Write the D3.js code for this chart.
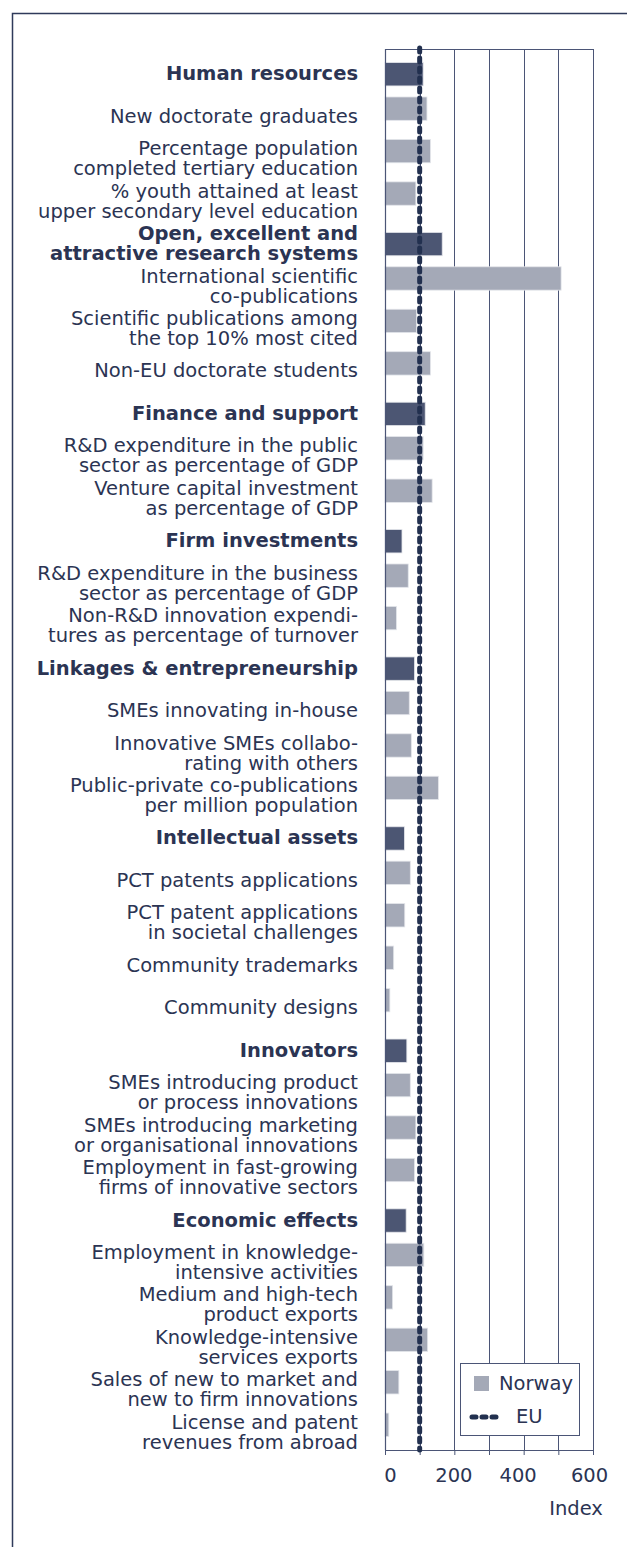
<!DOCTYPE html>
<html>
<head>
<meta charset="utf-8">
<script src="https://cdn.jsdelivr.net/npm/d3@7"></script>
<style>
  body { margin: 0; background: #fff; }
  svg text { font-family: "DejaVu Sans", Verdana, sans-serif; fill: #2b3453; }
</style>
</head>
<body>
<div id="chart"></div>
<script>
// indicator labels, top to bottom ("\n" = line break as in the original)
var labels = [
  "Human resources",
  "New doctorate graduates",
  "Percentage population\ncompleted tertiary education",
  "% youth attained at least\nupper secondary level education",
  "Open, excellent and\nattractive research systems",
  "International scientific\nco-publications",
  "Scientific publications among\nthe top 10% most cited",
  "Non-EU doctorate students",
  "Finance and support",
  "R&D expenditure in the public\nsector as percentage of GDP",
  "Venture capital investment\nas percentage of GDP",
  "Firm investments",
  "R&D expenditure in the business\nsector as percentage of GDP",
  "Non-R&D innovation expendi-\ntures as percentage of turnover",
  "Linkages & entrepreneurship",
  "SMEs innovating in-house",
  "Innovative SMEs collabo-\nrating with others",
  "Public-private co-publications\nper million population",
  "Intellectual assets",
  "PCT patents applications",
  "PCT patent applications\nin societal challenges",
  "Community trademarks",
  "Community designs",
  "Innovators",
  "SMEs introducing product\nor process innovations",
  "SMEs introducing marketing\nor organisational innovations",
  "Employment in fast-growing\nfirms of innovative sectors",
  "Economic effects",
  "Employment in knowledge-\nintensive activities",
  "Medium and high-tech\nproduct exports",
  "Knowledge-intensive\nservices exports",
  "Sales of new to market and\nnew to firm innovations",
  "License and patent\nrevenues from abroad"
];

// 1 = dimension (bold, dark bar), 0 = indicator
var isDimension = [1,0,0,0,1,0,0,0,1,0,0,1,0,0,1,0,0,0,1,0,0,0,0,1,0,0,0,1,0,0,0,0,0];

// Norway index values (EU = 100)
var norway = [110,121,131,89,165,508,91,131,116,110,136,49,67,33,85,70,76,154,56,73,57,25,14,63,73,89,85,61,112,22,123,40,11];

var euValue = 100;
var gridValues = [0,100,200,300,400,500,600];
var tickLabels = [0,200,400,600];

var W = 627, H = 1547;
var plot = {left: 385, right: 593, top: 49, bottom: 1450};

var dark = "#4c5673", light = "#a4a9b7", navy = "#22304f", grid = "#4b5576";

var svg = d3.select("#chart").append("svg")
    .attr("width", W)
    .attr("height", H);

// outer frame (left and top edges visible)
svg.append("path")
    .attr("d", "M12.5," + H + "V13.5H" + W)
    .attr("fill", "none")
    .attr("stroke", "#2f3a5a")
    .attr("stroke-width", 1.5);

var x = d3.scaleLinear()
    .domain([0, 600])
    .range([plot.left, plot.right]);

var y = d3.scaleBand()
    .domain(d3.range(labels.length))
    .range([plot.top, plot.bottom]);

var bw = y.bandwidth();
var barH = bw * 0.55;
var shift = bw * 0.095;

// gridlines
svg.append("g").selectAll("line")
    .data(gridValues.slice(1))
    .join("line")
    .attr("x1", d => Math.round(x(d)) + 0.5)
    .attr("x2", d => Math.round(x(d)) + 0.5)
    .attr("y1", plot.top)
    .attr("y2", plot.bottom)
    .attr("stroke", grid)
    .attr("stroke-width", 1);

// top border of plot
svg.append("line")
    .attr("x1", plot.left).attr("x2", plot.right + 1)
    .attr("y1", plot.top + 0.5).attr("y2", plot.top + 0.5)
    .attr("stroke", grid);

// bars
svg.append("g").selectAll("rect")
    .data(norway)
    .join("rect")
    .attr("x", x(0))
    .attr("y", (d, i) => y(i) + bw / 2 - barH / 2 + (isDimension[i] ? shift : -shift))
    .attr("width", d => x(d) - x(0))
    .attr("height", barH)
    .attr("fill", (d, i) => isDimension[i] ? dark : light)
    .attr("stroke", "#e3e5ea")
    .attr("stroke-width", 0.8);

// labels
var lab = svg.append("g").selectAll("text")
    .data(labels)
    .join("text")
    .attr("text-anchor", "end")
    .attr("font-size", "19.5px")
    .attr("font-weight", (d, i) => isDimension[i] ? "bold" : "normal")
    .attr("x", 358)
    .attr("y", (d, i) => y(i) + bw / 2 + 10 - (d.split("\n").length - 1) * 10);

lab.selectAll("tspan")
    .data(d => d.split("\n"))
    .join("tspan")
    .attr("x", 358)
    .attr("dy", (d, i) => i ? 20 : 0)
    .text(d => d);

// x axis
var axis = svg.append("g")
    .attr("transform", "translate(0," + plot.bottom + ")")
    .call(d3.axisBottom(x)
        .tickValues(gridValues)
        .tickSize(5)
        .tickSizeOuter(0)
        .tickFormat(d => tickLabels.includes(d) ? d : ""));

axis.select(".domain").attr("stroke", grid).attr("stroke-width", 1.2);
axis.selectAll(".tick line").attr("stroke", grid);
axis.selectAll(".tick text")
    .attr("y", 18)
    .attr("font-size", "19.5px")
    .attr("font-family", null)
    .attr("dx", d => d === 0 ? 5 : d === 200 ? -1 : d === 400 ? -6 : -4);

// left axis line
svg.append("line")
    .attr("x1", plot.left + 0.5).attr("x2", plot.left + 0.5)
    .attr("y1", plot.top).attr("y2", plot.bottom)
    .attr("stroke", grid)
    .attr("stroke-width", 1.2);

// EU reference line
svg.append("line")
    .attr("x1", x(euValue)).attr("x2", x(euValue))
    .attr("y1", plot.top - 1).attr("y2", plot.bottom)
    .attr("stroke", navy)
    .attr("stroke-width", 5)
    .attr("stroke-linecap", "round")
    .attr("stroke-dasharray", "4,6");

svg.append("text")
    .attr("x", 576)
    .attr("y", 1515)
    .attr("text-anchor", "middle")
    .attr("font-size", "19.5px")
    .text("Index");

// legend
var lg = svg.append("g").attr("transform", "translate(460,1363)");
lg.append("rect")
    .attr("x", 0.5).attr("y", 0.5)
    .attr("width", 119).attr("height", 72)
    .attr("fill", "#fff")
    .attr("stroke", grid);
lg.append("rect")
    .attr("x", 14).attr("y", 13)
    .attr("width", 15).attr("height", 15)
    .attr("fill", light);
lg.append("text")
    .attr("x", 39).attr("y", 27)
    .attr("font-size", "19.5px")
    .text("Norway");
lg.append("line")
    .attr("x1", 12).attr("x2", 37)
    .attr("y1", 54).attr("y2", 54)
    .attr("stroke", navy)
    .attr("stroke-width", 5)
    .attr("stroke-linecap", "round")
    .attr("stroke-dasharray", "4,6");
lg.append("text")
    .attr("x", 56).attr("y", 60)
    .attr("font-size", "19.5px")
    .text("EU");
</script>
</body>
</html>
